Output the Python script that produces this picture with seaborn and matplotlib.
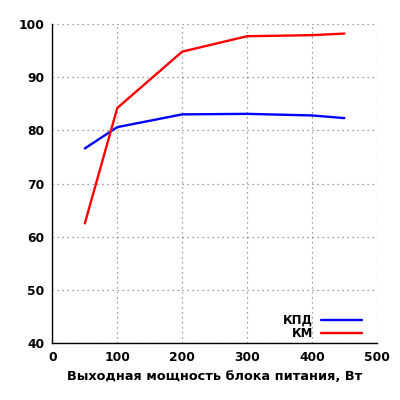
import matplotlib
matplotlib.use("Agg")
import matplotlib.pyplot as plt
import seaborn as sns
import pandas as pd
from matplotlib.ticker import MultipleLocator

power = [50, 100, 200, 300, 400, 450]
kpd = [76.6, 80.6, 83.0, 83.1, 82.8, 82.3]
km = [62.5, 84.2, 94.8, 97.7, 97.9, 98.2]
series_names = ["КПД", "КМ"]
colors = ["#0000ff", "#ff0000"]

df = pd.DataFrame({
    "x": power * 2,
    "y": kpd + km,
    "s": [series_names[0]] * len(power) + [series_names[1]] * len(power),
})

sns.set_style("white")
plt.rcParams["font.family"] = ["DejaVu Sans"]
plt.rcParams["font.weight"] = "bold"
plt.rcParams["text.color"] = "black"

fig = plt.figure(figsize=(4, 4), dpi=100)
ax = fig.add_axes([0.131, 0.1425, 0.811, 0.7975])

sns.lineplot(data=df, x="x", y="y", hue="s", palette=colors, ax=ax,
             linewidth=1.7, sort=False)

ax.set_xlim(0, 500)
ax.set_ylim(40, 100)
ax.xaxis.set_major_locator(MultipleLocator(100))
ax.xaxis.set_minor_locator(MultipleLocator(50))
ax.yaxis.set_major_locator(MultipleLocator(10))
ax.yaxis.set_minor_locator(MultipleLocator(5))
ax.grid(True, which="major", linestyle=(0, (1, 3)), color="#808080", linewidth=0.9)
ax.tick_params(which="major", direction="in", length=5, width=1, labelsize=8.8,
               colors="black", labelcolor="black", pad=6)
ax.tick_params(which="minor", direction="in", length=3, width=1, colors="black")
for lab in ax.get_xticklabels() + ax.get_yticklabels():
    lab.set_fontweight("bold")

for s in ["top", "right"]:
    ax.spines[s].set_visible(False)
for s in ["left", "bottom"]:
    ax.spines[s].set_color("black")
    ax.spines[s].set_linewidth(1)

ax.set_xlabel("Выходная мощность блока питания, Вт", fontsize=9.3, fontweight="bold",
              labelpad=4, color="black")
ax.set_ylabel("")

leg = ax.legend(loc="lower right", frameon=False, markerfirst=False, fontsize=8.5,
                handlelength=3.4, handletextpad=0.7, labelspacing=0.0,
                bbox_to_anchor=(0.975, -0.012), borderaxespad=0.2)
for t in leg.get_texts():
    t.set_fontweight("bold")
    t.set_color("black")

fig.savefig("out.png", dpi=100)
